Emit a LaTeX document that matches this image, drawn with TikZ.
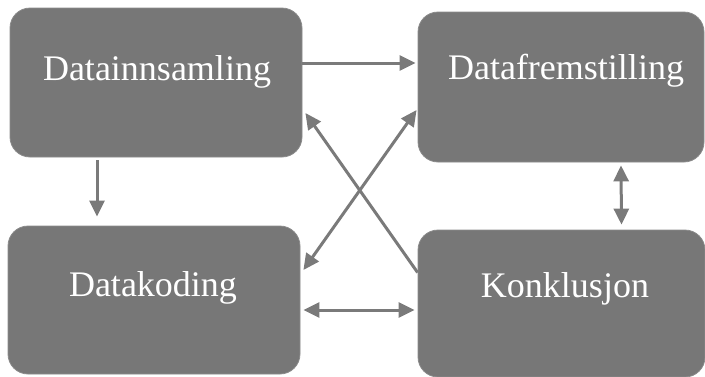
\documentclass[tikz,border=0pt]{standalone}
\usepackage{fontspec}
\setmainfont{Liberation Serif}
\usetikzlibrary{arrows.meta,calc}
\definecolor{boxgray}{HTML}{777777}
\definecolor{arrowgray}{HTML}{7A7A7A}
\tikzset{
  box/.style={rectangle, rounded corners=20pt, fill=boxgray, draw=boxgray!85!white, line width=0.8pt, inner sep=0pt},
  lbl/.style={anchor=base, text=white, inner sep=0pt, font=\fontsize{36}{42}\selectfont},
  conn/.style={draw=arrowgray, line width=3pt},
  tip/.style={-{Triangle[length=16pt,width=15pt]}},
  tips/.style={{Triangle[length=16pt,width=15pt]}-{Triangle[length=16pt,width=15pt]}},
}
\begin{document}
\begin{tikzpicture}[x=1pt,y=-1pt]
\fill[white] (0,0) rectangle (705,376);
\useasboundingbox (0,0) rectangle (705,376);
\node[box, minimum width=292pt, minimum height=149pt] (d1) at (156,82.5) {};
\node[box, minimum width=286pt, minimum height=150pt] (d2) at (561,87) {};
\node[box, minimum width=292pt, minimum height=148pt] (d3) at (154,300) {};
\node[box, minimum width=287pt, minimum height=147pt] (d4) at (561.5,303.5) {};
\node[lbl] (t1) at (157,80) {Datainnsamling};
\node[lbl] (t2) at (566,79.5) {Datafremstilling};
\node[lbl] (t3) at (153,296) {Datakoding};
\node[lbl] (t4) at (565,297) {Konklusjon};
% connectors
\draw[conn,tip] ($(d1.east)+(0,-19.5)$) -- ($(d2.west)+(-2,-24)$);
\draw[conn,tip] ($(d1.south)+(-59,3)$) -- ($(d3.north)+(-57,-9)$);
\draw[conn,tip] ($(d4.west)+(0,-31)$) -- ($(d1.east)+(3,30.5)$);
\draw[conn,tips] ($(d3.east)+(3,-30)$) -- ($(d2.west)+(-1,23)$);
\draw[conn,tips] ($(d3.east)+(3,10)$) -- ($(d4.west)+(-3,6.5)$);
\draw[conn,tips] ($(d2.south)+(60,3)$) -- ($(d4.north)+(60,-5)$);
\end{tikzpicture}
\end{document}
